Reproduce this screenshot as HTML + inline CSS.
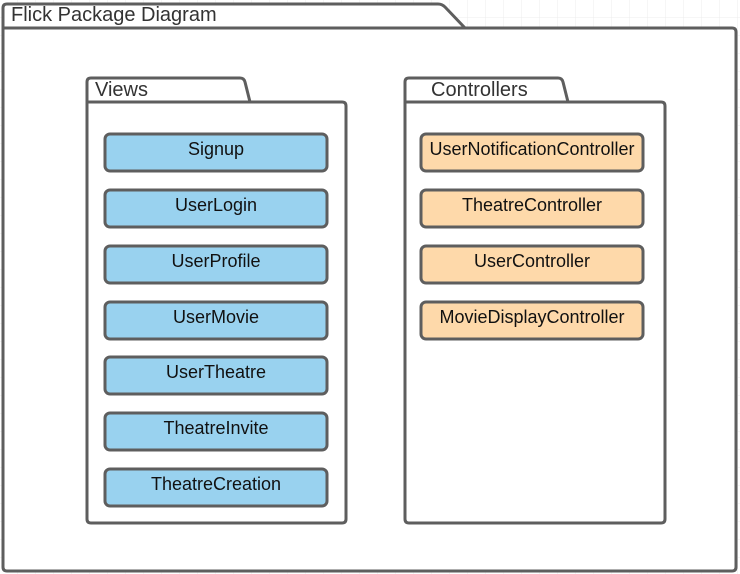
<!DOCTYPE html>
<html><head><meta charset="utf-8"><style>
html,body{margin:0;padding:0;background:#fff;}
svg{display:block;}
text{font-family:"Liberation Sans",sans-serif;}
</style></head><body>
<svg width="740" height="574" viewBox="0 0 740 574" xmlns="http://www.w3.org/2000/svg">
<defs>
<pattern id="g" width="18" height="18" patternUnits="userSpaceOnUse">
<path d="M18 0V18H0" fill="none" stroke="#ececec" stroke-width="1"/>
</pattern>
</defs>
<rect width="740" height="574" fill="url(#g)"/>
<g fill="#fff" stroke="#5e5e5e" stroke-width="3" stroke-linejoin="round">
<path d="M3 28 V8 Q3 4 7 4 H438 Q442 4 445 7 L465 28 Z"/>
<path d="M3 28 H732 Q736 28 736 32 V567 Q736 571 732 571 H7 Q3 571 3 567 Z"/>
<path d="M87 102 V82 Q87 78 91 78 H240 Q244 78 245 82 L250 102 Z"/>
<path d="M87 102 H342 Q346 102 346 106 V519 Q346 523 342 523 H91 Q87 523 87 519 Z"/>
<path d="M405 102 V82 Q405 78 409 78 H558 Q562 78 563 82 L568 102 Z"/>
<path d="M405 102 H661 Q665 102 665 106 V519 Q665 523 661 523 H409 Q405 523 405 519 Z"/>
</g>
<g font-size="20" fill="#333">
<text x="11" y="21">Flick Package Diagram</text>
<text x="95" y="96">Views</text>
<text x="431" y="96">Controllers</text>
</g>
<g stroke="#5e5e5e" stroke-width="3" fill="#99d2ef">
<rect x="105" y="134" width="222" height="37" rx="5"/>
<rect x="105" y="190" width="222" height="37" rx="5"/>
<rect x="105" y="246" width="222" height="37" rx="5"/>
<rect x="105" y="302" width="222" height="37" rx="5"/>
<rect x="105" y="357" width="222" height="37" rx="5"/>
<rect x="105" y="413" width="222" height="37" rx="5"/>
<rect x="105" y="469" width="222" height="37" rx="5"/>
</g>
<g stroke="#5e5e5e" stroke-width="3" fill="#fed9aa">
<rect x="421" y="134" width="222" height="37" rx="5"/>
<rect x="421" y="190" width="222" height="37" rx="5"/>
<rect x="421" y="246" width="222" height="37" rx="5"/>
<rect x="421" y="302" width="222" height="37" rx="5"/>
</g>
<g font-size="18" fill="#111" text-anchor="middle">
<text x="216" y="155">Signup</text>
<text x="216" y="211">UserLogin</text>
<text x="216" y="267">UserProfile</text>
<text x="216" y="323">UserMovie</text>
<text x="216" y="378">UserTheatre</text>
<text x="216" y="434">TheatreInvite</text>
<text x="216" y="490">TheatreCreation</text>
<text x="532" y="155">UserNotificationController</text>
<text x="532" y="211">TheatreController</text>
<text x="532" y="267">UserController</text>
<text x="532" y="323">MovieDisplayController</text>
</g>
</svg>
</body></html>
